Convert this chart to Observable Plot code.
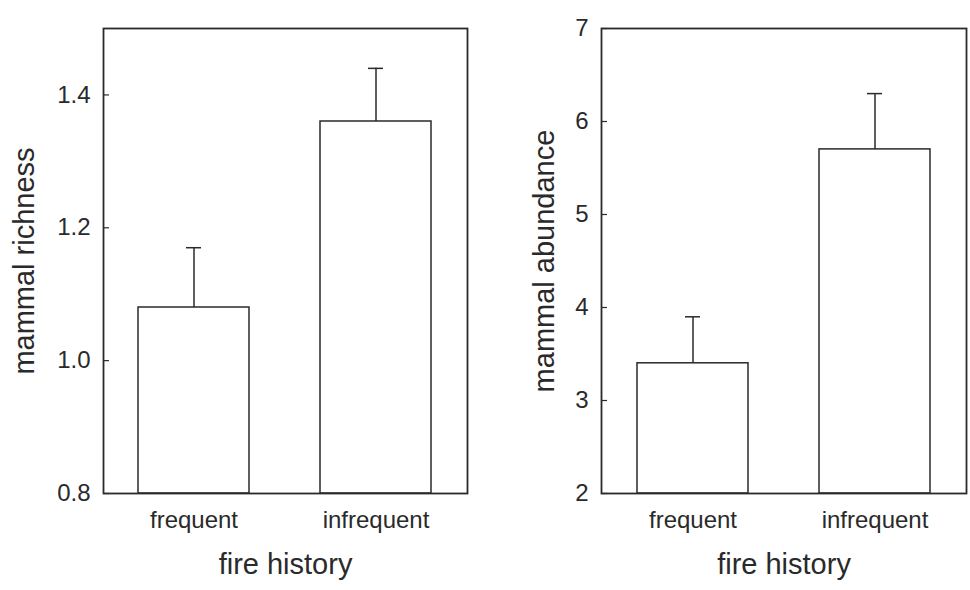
<!DOCTYPE html>
<html>
<head>
<meta charset="utf-8">
<script src="https://cdn.jsdelivr.net/npm/d3@7"></script>
<script src="https://cdn.jsdelivr.net/npm/@observablehq/plot@0.6"></script>
<style>
  html, body { margin: 0; padding: 0; background: #fff; }
  #wrap { display: flex; flex-direction: row; width: 970px; height: 590px; }
</style>
</head>
<body>
<div id="wrap"></div>
<script>
const categories = ["frequent", "infrequent"];
const richnessMean = [1.08, 1.36];
const richnessUpper = [1.17, 1.44];
const richnessDomain = [0.8, 1.5];
const richnessTicks = [0.8, 1.0, 1.2, 1.4];
const abundanceMean = [3.4, 5.7];
const abundanceUpper = [3.9, 6.3];
const abundanceDomain = [2, 7];
const abundanceTicks = [2, 3, 4, 5, 6, 7];
const xTitle = "fire history";
const richnessTitle = "mammal richness";
const abundanceTitle = "mammal abundance";

const ink = "#2a2a2a";
const font = "'Liberation Sans', Arial, Helvetica, sans-serif";

function panel({means, uppers, domain, ticks, title, marginLeft, marginRight, titleDx, tickFormat}) {
  const data = categories.map((c, i) => ({cat: c, mean: means[i], upper: uppers[i]}));
  const plotWidth = 485 - marginLeft - marginRight;
  return Plot.plot({
    width: 485,
    height: 590,
    marginLeft,
    marginRight,
    marginTop: 28,
    marginBottom: 97,
    style: {fontFamily: font, color: ink, background: "white"},
    x: {domain: categories, paddingInner: 0.39, paddingOuter: 0.195, label: null, axis: null},
    y: {domain, label: null, axis: null},
    marks: [
      Plot.ruleX(data, {x: "cat", y1: "mean", y2: "upper", stroke: ink, strokeWidth: 1.5}),
      Plot.tickY(data, {x: "cat", y: "upper", stroke: ink, strokeWidth: 1.5, insetLeft: 48, insetRight: 48}),
      Plot.barY(data, {x: "cat", y1: () => domain[0], y2: "mean", fill: "white", stroke: ink, strokeWidth: 1.5}),
      Plot.tickY(ticks, {y: d => d, stroke: ink, strokeWidth: 1.2, insetRight: plotWidth - 6}),
      Plot.frame({stroke: ink, strokeWidth: 1.8}),
      Plot.axisY({ticks, tickSize: 0, tickPadding: 13, fontSize: 24, tickFormat, fill: ink, label: null}),
      Plot.axisX({tickSize: 0, tickPadding: 17, fontSize: 24, fill: ink, label: null}),
      Plot.text([xTitle], {frameAnchor: "bottom", dy: 80, fontSize: 29, fill: ink}),
      Plot.text([title], {frameAnchor: "left", textAnchor: "middle", dx: titleDx, dy: 0, rotate: -90, fontSize: 29, fill: ink})
    ]
  });
}

const wrap = document.getElementById("wrap");
wrap.appendChild(panel({
  means: richnessMean, uppers: richnessUpper, domain: richnessDomain, ticks: richnessTicks,
  title: richnessTitle, marginLeft: 103, marginRight: 18, titleDx: -79, tickFormat: d3.format(".1f")
}));
wrap.appendChild(panel({
  means: abundanceMean, uppers: abundanceUpper, domain: abundanceDomain, ticks: abundanceTicks,
  title: abundanceTitle, marginLeft: 116, marginRight: 4, titleDx: -57, tickFormat: d3.format("d")
}));
</script>
</body>
</html>
